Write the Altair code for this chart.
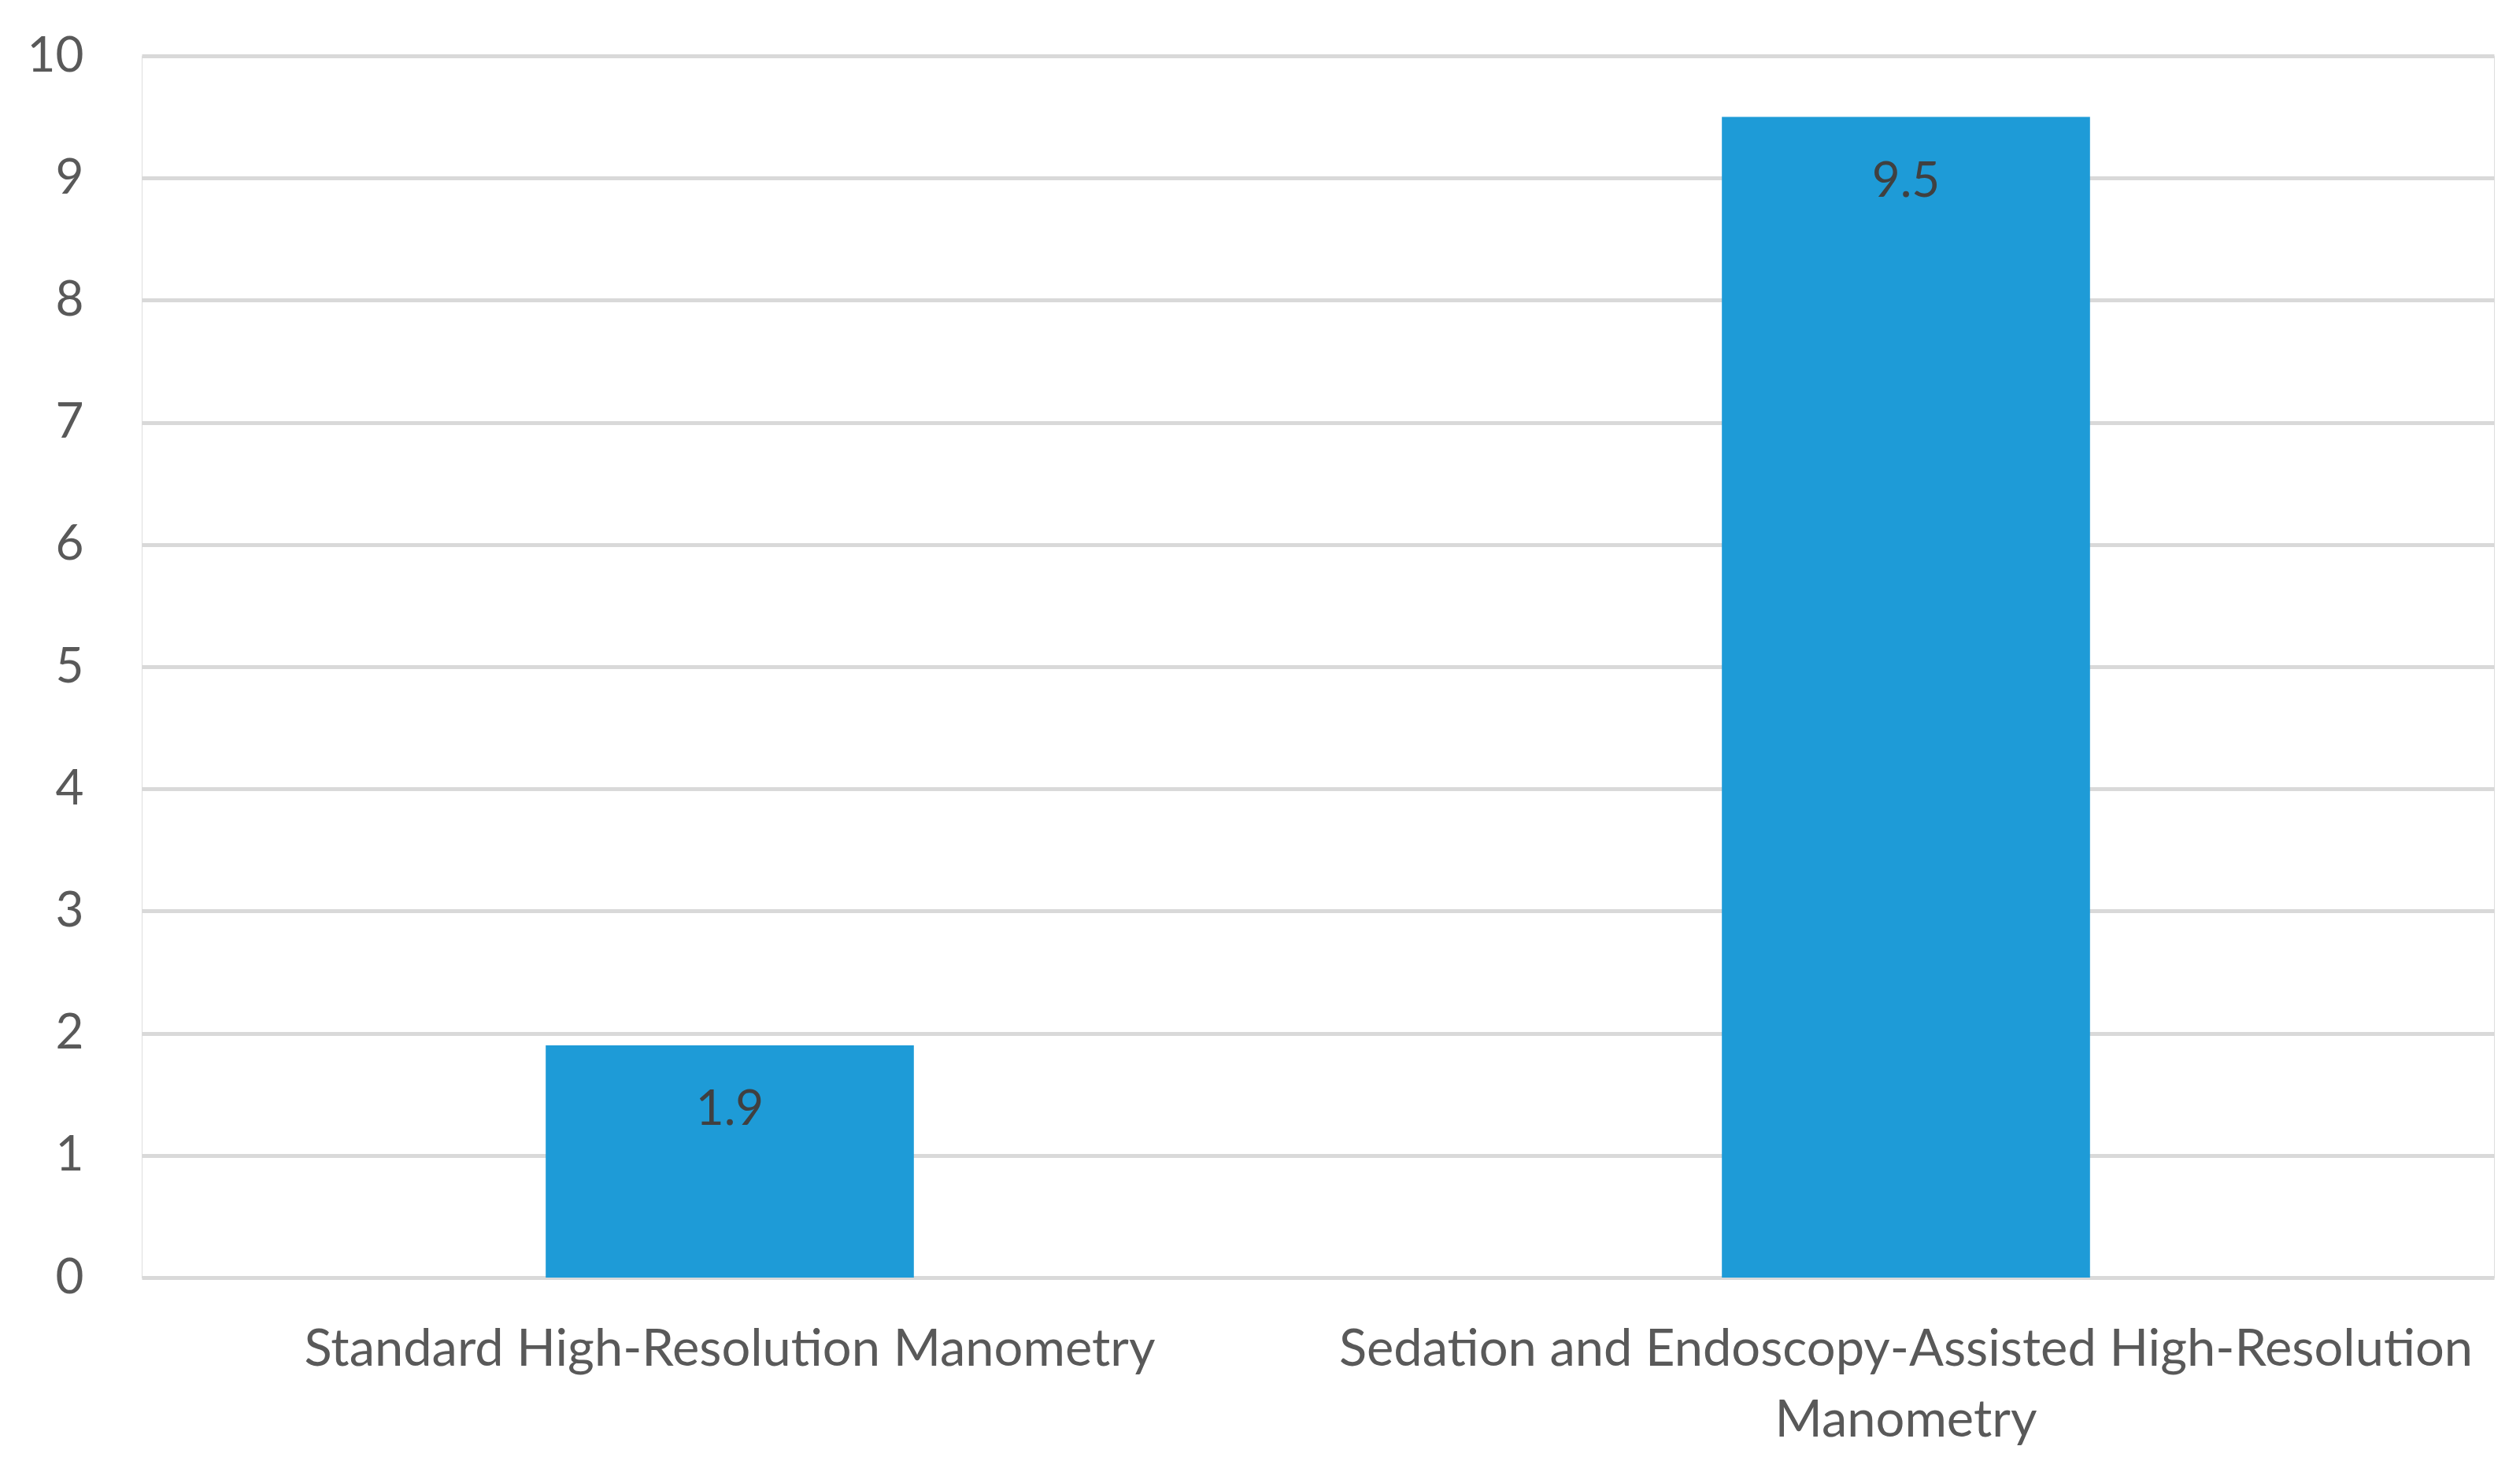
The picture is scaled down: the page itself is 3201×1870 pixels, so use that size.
import altair as alt
import pandas as pd

categories = ["Standard High-Resolution Manometry",
              "Sedation and Endoscopy-Assisted High-Resolution Manometry"]
label_lines = [["Standard High-Resolution Manometry"],
               ["Sedation and Endoscopy-Assisted High-Resolution", "Manometry"]]
values = [1.9, 9.5]
y_ticks = list(range(0, 11))

df = pd.DataFrame({"cat": categories, "val": values,
                   "txt": [f"{v:.1f}" for v in values]})

FONT = "Lato"
label_expr = ("datum.label == '" + categories[1] + "' ? ['" + label_lines[1][0] + "', '"
              + label_lines[1][1] + "'] : datum.label")

base = alt.Chart(df).encode(
    x=alt.X("cat:N", sort=categories,
            scale=alt.Scale(paddingInner=0.687, paddingOuter=0.3435),
            axis=alt.Axis(title=None, labelAngle=0, domain=False, ticks=False,
                          labelFont=FONT, labelFontSize=65, labelColor="#595959",
                          labelPadding=60, labelLineHeight=90, labelLimit=2000,
                          labelExpr=label_expr)),
)

bars = base.mark_bar(color="#1E9BD7").encode(
    y=alt.Y("val:Q", scale=alt.Scale(domain=[0, 10], nice=False),
            axis=alt.Axis(title=None, values=y_ticks, format="d", domain=False, ticks=False,
                          labelFont=FONT, labelFontSize=62, labelColor="#595959",
                          labelPadding=74, gridColor="#D9D9D9", gridWidth=5))
)

texts = base.mark_text(font=FONT, fontSize=62, color="#404040", baseline="middle",
                       dy=82).encode(y="val:Q", text="txt:N")

chart = (bars + texts).properties(
    width=2988, height=1552,
    padding={"left": 172, "top": 63, "right": 25, "bottom": 239},
    autosize=alt.AutoSizeParams(type="none"),
).configure_view(stroke=None).configure(background="white")

chart.save("out.html", embed_options={"renderer": "svg", "actions": False})
